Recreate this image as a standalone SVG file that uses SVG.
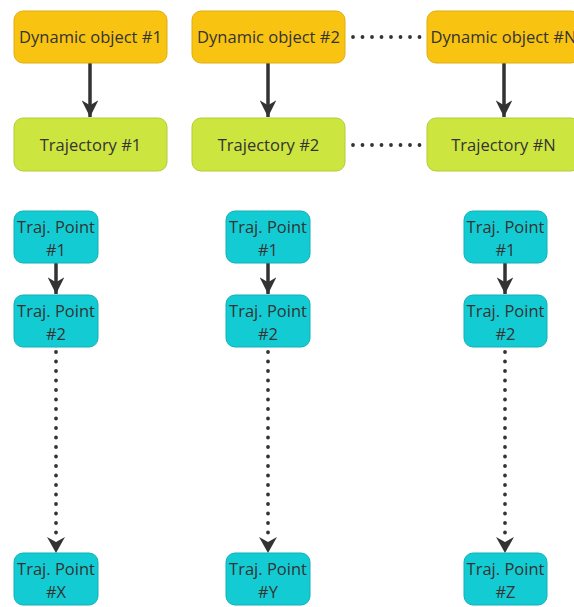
<svg xmlns="http://www.w3.org/2000/svg" width="574" height="607" viewBox="0 0 574 607">
<defs>
<style>
.t{font-family:"Open Sans","Noto Sans",sans-serif;font-size:16.5px;fill:#333;text-anchor:middle}
.dyn{fill:#F8C311;stroke:#E0AE10;stroke-width:1}
.trj{fill:#CDE53F;stroke:#B5CB38;stroke-width:1}
.pt{fill:#13CCD3;stroke:#10B0B6;stroke-width:1}
.ln{stroke:#333;stroke-width:3.5;fill:none}
.dot{stroke:#333;stroke-width:3.8;fill:none;stroke-linecap:round;stroke-dasharray:0 9.5}
</style>
<marker id="ah" viewBox="0 0 10 10" refX="10" refY="5" markerWidth="4.8" markerHeight="4.8" orient="auto" markerUnits="strokeWidth">
<path d="M0,0 L10,5 L0,10 L3,5 z" fill="#333"/>
</marker>
</defs>
<rect width="574" height="607" fill="#fff"/>
<g id="connectors">
<line class="ln" x1="90" y1="63" x2="90" y2="117" marker-end="url(#ah)"/>
<line class="ln" x1="268" y1="63" x2="268" y2="117" marker-end="url(#ah)"/>
<line class="ln" x1="504" y1="63" x2="504" y2="117" marker-end="url(#ah)"/>
<line class="dot" x1="353" y1="37" x2="425" y2="37"/>
<line class="dot" x1="353" y1="145" x2="425" y2="145"/>
<line class="ln" x1="56" y1="263" x2="56" y2="294" marker-end="url(#ah)"/>
<line class="ln" x1="268" y1="263" x2="268" y2="294" marker-end="url(#ah)"/>
<line class="ln" x1="505" y1="263" x2="505" y2="294" marker-end="url(#ah)"/>
<line class="dot" x1="56" y1="352" x2="56" y2="540"/>
<line class="dot" x1="268" y1="352" x2="268" y2="540"/>
<line class="dot" x1="505" y1="352" x2="505" y2="540"/>
<path d="M47,537 L56,553 L65,537 L56,542 z" fill="#333"/>
<path d="M259,537 L268,553 L277,537 L268,542 z" fill="#333"/>
<path d="M496,537 L505,553 L514,537 L505,542 z" fill="#333"/>
</g>
<g id="dyn1"><rect class="dyn" x="14" y="11" width="153" height="52" rx="9"/><text class="t" x="90.5" y="43">Dynamic object #1</text></g>
<g id="dyn2"><rect class="dyn" x="192" y="11" width="153" height="52" rx="9"/><text class="t" x="268.5" y="43">Dynamic object #2</text></g>
<g id="dynN"><rect class="dyn" x="427" y="11" width="153" height="52" rx="9"/><text class="t" x="503.5" y="43">Dynamic object #N</text></g>
<g id="traj1"><rect class="trj" x="14" y="118" width="153" height="53" rx="9"/><text class="t" x="90.5" y="151">Trajectory #1</text></g>
<g id="traj2"><rect class="trj" x="192" y="118" width="153" height="53" rx="9"/><text class="t" x="268.5" y="151">Trajectory #2</text></g>
<g id="trajN"><rect class="trj" x="427" y="118" width="153" height="53" rx="9"/><text class="t" x="503.5" y="151">Trajectory #N</text></g>
<g id="p1_1"><rect class="pt" x="14" y="211" width="84" height="52" rx="9"/><text class="t" x="56" y="233">Traj. Point</text><text class="t" x="56" y="256">#1</text></g>
<g id="p1_2"><rect class="pt" x="14" y="295" width="84" height="52" rx="9"/><text class="t" x="56" y="317">Traj. Point</text><text class="t" x="56" y="340">#2</text></g>
<g id="p1_x"><rect class="pt" x="14" y="553" width="84" height="52" rx="9"/><text class="t" x="56" y="575">Traj. Point</text><text class="t" x="56" y="598">#X</text></g>
<g id="p2_1"><rect class="pt" x="226" y="211" width="84" height="52" rx="9"/><text class="t" x="268" y="233">Traj. Point</text><text class="t" x="268" y="256">#1</text></g>
<g id="p2_2"><rect class="pt" x="226" y="295" width="84" height="52" rx="9"/><text class="t" x="268" y="317">Traj. Point</text><text class="t" x="268" y="340">#2</text></g>
<g id="p2_y"><rect class="pt" x="226" y="553" width="84" height="52" rx="9"/><text class="t" x="268" y="575">Traj. Point</text><text class="t" x="268" y="598">#Y</text></g>
<g id="p3_1"><rect class="pt" x="464" y="211" width="83" height="52" rx="9"/><text class="t" x="505.5" y="233">Traj. Point</text><text class="t" x="505.5" y="256">#1</text></g>
<g id="p3_2"><rect class="pt" x="464" y="295" width="83" height="52" rx="9"/><text class="t" x="505.5" y="317">Traj. Point</text><text class="t" x="505.5" y="340">#2</text></g>
<g id="p3_z"><rect class="pt" x="464" y="553" width="83" height="52" rx="9"/><text class="t" x="505.5" y="575">Traj. Point</text><text class="t" x="505.5" y="598">#Z</text></g>
</svg>
